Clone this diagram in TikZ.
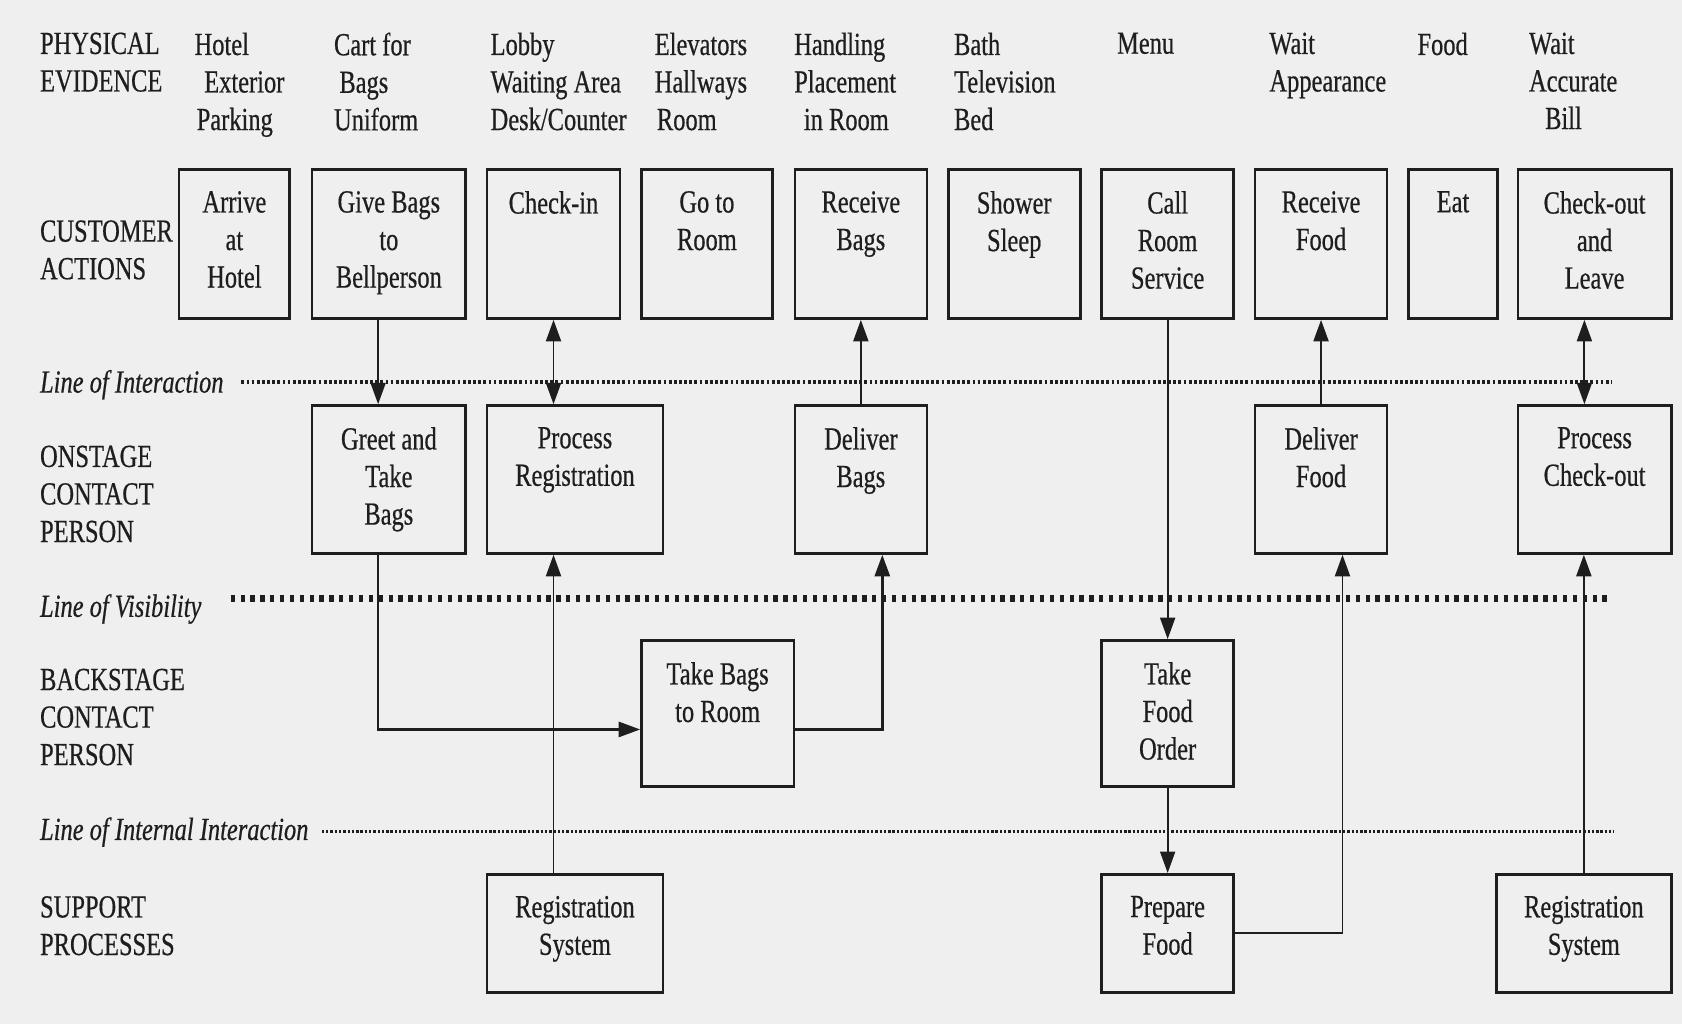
\documentclass[tikz,border=0pt]{standalone}
\usepackage{fontspec}
\setmainfont{Liberation Serif}[FakeStretch=0.76,FakeBold=0.5]
\usetikzlibrary{arrows.meta,fit}
\definecolor{paper}{RGB}{239,239,239}
\definecolor{ink}{RGB}{30,30,30}
\begin{document}
\begin{tikzpicture}[x=0.5pt,y=-0.5pt,
  every node/.style={font=\fontsize{15}{17.5}\selectfont, text=ink, inner sep=0pt},
  box/.style={draw=ink, line width=1.2pt, inner sep=0pt},
  boxlbl/.style={anchor=north, yshift=-10.5pt, align=center},
  hdr/.style={anchor=north west, align=left},
  lname/.style={anchor=base west, font=\fontsize{15}{17.5}\selectfont\itshape},
  tip/.style={Triangle[length=10pt,width=7pt]},
  arr/.style={draw=ink, line width=0.9pt, -{Triangle[length=10pt,width=7pt]}},
  biarr/.style={draw=ink, line width=0.9pt, {Triangle[length=10pt,width=7pt]}-{Triangle[length=10pt,width=7pt]}},
  interline/.style={draw=ink, line width=1.8pt, dash pattern=on 1.3pt off 1.1pt},
  visline/.style={draw=ink, line width=3.4pt, dash pattern=on 2pt off 2.6pt},
  intline/.style={draw=ink, line width=1.5pt, dash pattern=on 1.1pt off 0.9pt}
]
\useasboundingbox (0,0) rectangle (1568,955);
\fill[paper] (0,0) rectangle (1568,955);

% ---- row headings ----
\node[hdr] (hpe) at (37,30) {PHYSICAL\\EVIDENCE};
\node[hdr] (hca) at (37,205) {CUSTOMER\\ACTIONS};
\node[hdr] (hon) at (37,415) {ONSTAGE\\CONTACT\\PERSON};
\node[hdr] (hbk) at (37,623) {BACKSTAGE\\CONTACT\\PERSON};
\node[hdr] (hsp) at (37,835) {SUPPORT\\PROCESSES};

% ---- physical evidence ----
\node[hdr] (pe1) at (181,30) {Hotel\\\hspace*{4.5pt}Exterior\\\hspace*{1pt}Parking};
\node[hdr] (pe2) at (311,30) {Cart for\\\hspace*{2.5pt}Bags\\Uniform};
\node[hdr] (pe3) at (457,30) {Lobby\\Waiting Area\\Desk/Counter};
\node[hdr] (pe4) at (610,30) {Elevators\\Hallways\\\hspace*{1pt}Room};
\node[hdr] (pe5) at (740,30) {Handling\\Placement\\\hspace*{4.5pt}in Room};
\node[hdr] (pe6) at (889,30) {Bath\\Television\\Bed};
\node[hdr] (pe7) at (1041,30) {Menu};
\node[hdr] (pe8) at (1183,30) {Wait\\Appearance};
\node[hdr] (pe9) at (1321,30) {Food};
\node[hdr] (pe10) at (1425,30) {Wait\\Accurate\\\hspace*{7.5pt}Bill};

% ---- separation lines ----
\node[lname] (loi) at (37,366) {Line of Interaction};
\node[lname] (lov) at (37,575) {Line of Visibility};
\node[lname] (lii) at (37,783) {Line of Internal Interaction};
\draw[interline] (225,356) -- (1502,356);
\draw[visline] (215,558) -- (1502,558);
\draw[intline] (300,775) -- (1505,775);

% ---- customer actions ----
\node[box, fit={(167,158) (270,297)}] (arrive) {};
\node[box, fit={(291,158) (434,297)}] (give) {};
\node[box, fit={(454,158) (578,297)}] (checkin) {};
\node[box, fit={(598,158) (720,297)}] (goroom) {};
\node[box, fit={(741,158) (864,297)}] (recbags) {};
\node[box, fit={(884,158) (1007,297)}] (shower) {};
\node[box, fit={(1027,158) (1150,297)}] (callrs) {};
\node[box, fit={(1170,158) (1293,297)}] (recfood) {};
\node[box, fit={(1313,158) (1396,297)}] (eat) {};
\node[box, fit={(1415,158) (1558,297)}] (checkout) {};
\node[boxlbl] at (arrive.north) {Arrive\\at\\Hotel};
\node[boxlbl] at (give.north) {Give Bags\\to\\Bellperson};
\node[boxlbl] at (checkin.north) {Check-in};
\node[boxlbl] at (goroom.north) {Go to\\Room};
\node[boxlbl] at (recbags.north) {Receive\\Bags};
\node[boxlbl] at (shower.north) {Shower\\Sleep};
\node[boxlbl] at (callrs.north) {Call\\Room\\Service};
\node[boxlbl] at (recfood.north) {Receive\\Food};
\node[boxlbl] at (eat.north) {Eat};
\node[boxlbl] at (checkout.north) {Check-out\\and\\Leave};

% ---- onstage contact person ----
\node[box, fit={(291,378) (434,516)}] (greet) {};
\node[box, fit={(454,378) (618,516)}] (procreg) {};
\node[box, fit={(741,378) (864,516)}] (delbags) {};
\node[box, fit={(1170,378) (1293,516)}] (delfood) {};
\node[box, fit={(1415,378) (1558,516)}] (proccheck) {};
\node[boxlbl] at (greet.north) {Greet and\\Take\\Bags};
\node[boxlbl] at (procreg.north) {Process\\Registration};
\node[boxlbl] at (delbags.north) {Deliver\\Bags};
\node[boxlbl] at (delfood.north) {Deliver\\Food};
\node[boxlbl] at (proccheck.north) {Process\\Check-out};

% ---- backstage contact person ----
\node[box, fit={(598,597) (740,733)}] (takebags) {};
\node[box, fit={(1027,597) (1150,733)}] (takeorder) {};
\node[boxlbl] at (takebags.north) {Take Bags\\to Room};
\node[boxlbl] at (takeorder.north) {Take\\Food\\Order};

% ---- support processes ----
\node[box, fit={(454,815) (618,925)}] (regsys) {};
\node[box, fit={(1027,815) (1150,925)}] (prepfood) {};
\node[box, fit={(1395,815) (1558,925)}] (regsys2) {};
\node[boxlbl] at (regsys.north) {Registration\\System};
\node[boxlbl] at (prepfood.north) {Prepare\\Food};
\node[boxlbl] at (regsys2.north) {Registration\\System};

% ---- flows ----
\draw[arr] ([xshift=-5pt]give.south) -- ([xshift=-5pt]greet.north);
\draw[biarr] (checkin.south) -- (checkin.south |- procreg.north);
\draw[arr] (delbags.north) -- (recbags.south);
\draw[arr] (delfood.north) -- (recfood.south);
\draw[biarr] ([xshift=-4.75pt]checkout.south) -- ([xshift=-4.75pt]proccheck.north);
\draw[arr] (callrs.south) -- (takeorder.north);
\draw[arr, line width=1.2pt] ([xshift=-5pt]greet.south) |- ([yshift=-7.5pt]takebags.west);
\draw[arr, line width=1.2pt] ([yshift=-7.5pt]takebags.east) -| ([xshift=10pt]delbags.south);
\draw[arr] ([xshift=-10pt]regsys.north) -- ([xshift=-10pt]procreg.south);
\draw[arr] (takeorder.south) -- (prepfood.north);
\draw[arr] (prepfood.east) -| ([xshift=10pt]delfood.south);
\draw[arr] (regsys2.north) -- (regsys2.north |- proccheck.south);
\end{tikzpicture}
\end{document}
